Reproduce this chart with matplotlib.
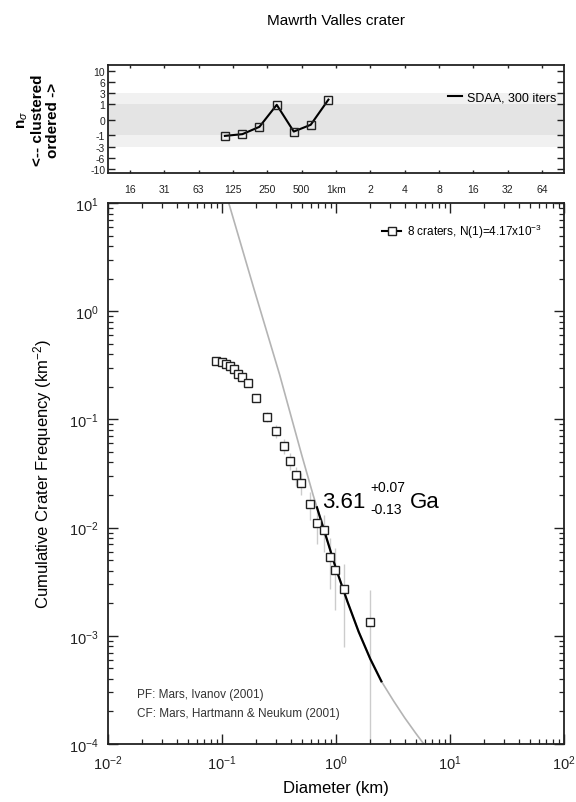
import numpy as np
import matplotlib
matplotlib.use("Agg")
import matplotlib.pyplot as plt
from matplotlib.lines import Line2D
from matplotlib.ticker import LogLocator, NullLocator, NullFormatter

plt.rcParams["font.family"] = ["Liberation Sans", "DejaVu Sans"]
plt.rcParams["mathtext.fontset"] = "custom"
plt.rcParams["mathtext.rm"] = "Liberation Sans"
plt.rcParams["mathtext.it"] = "Liberation Sans:italic"
plt.rcParams["mathtext.bf"] = "Liberation Sans:bold"

# cumulative crater counts (diameter km, frequency km^-2) + error bars
diam = [0.0886, 0.0994, 0.108, 0.1175, 0.1274, 0.139, 0.149, 0.168, 0.199, 0.247, 0.296,
        0.348, 0.395, 0.446, 0.493, 0.591, 0.686, 0.789, 0.891, 0.98, 1.18, 1.98]
cum_freq = [0.345, 0.338, 0.327, 0.311, 0.290, 0.264, 0.246, 0.215, 0.159, 0.106, 0.078,
            0.0567, 0.0412, 0.0304, 0.026, 0.0164, 0.011, 0.0095, 0.0054, 0.0041, 0.0027, 0.00134]
err_lo = [0.3235, 0.3167, 0.3061, 0.2906, 0.2703, 0.2452, 0.2279, 0.198, 0.1444, 0.0941, 0.0678,
          0.0480, 0.0338, 0.0241, 0.0200, 0.01167, 0.00711, 0.00591, 0.0027, 0.00173, 0.00079, 1e-6]
err_hi = [0.3665, 0.3593, 0.3479, 0.3314, 0.3097, 0.2828, 0.2641, 0.232, 0.1736, 0.1179, 0.0882,
          0.0654, 0.0486, 0.0367, 0.0320, 0.02113, 0.01489, 0.01309, 0.0081, 0.00647, 0.00461, 0.00268]

# isochron (gray, whole range) and fitted part (black)
iso_d = [0.100, 0.114, 0.19, 0.32, 0.50, 0.63, 0.79, 1.0, 1.26, 1.58, 2.0, 2.5, 3.2, 4.0, 5.0, 6.5]
iso_n = [15.5, 10.2, 1.63, 0.26, 0.047, 0.020, 0.0093, 0.00417, 0.00207, 0.00109, 0.00061,
         0.00038, 0.00025, 0.000175, 0.000126, 0.000087]
fit_d = [0.68, 0.79, 1.0, 1.26, 1.58, 2.0, 2.5]
fit_n = [0.0154, 0.0093, 0.00417, 0.00207, 0.00109, 0.00061, 0.00038]

# randomness analysis (top panel)
sdaa_d = [0.106, 0.151, 0.213, 0.302, 0.426, 0.60, 0.858]
sdaa_n = [-1.07, -0.85, -0.20, 0.95, -0.57, -0.10, 1.72]
n_ticks = [-10, -6, -3, -1, 0, 1, 3, 6, 10]
bin_ticks = [0.015625, 0.03125, 0.0625, 0.125, 0.25, 0.5, 1, 2, 4, 8, 16, 32, 64]
bin_labels = ["16", "31", "63", "125", "250", "500", "1km", "2", "4", "8", "16", "32", "64"]

fig = plt.figure(figsize=(5.76, 8.03), dpi=100)
ax = fig.add_axes([0.1875, 0.0722, 0.7917, 0.6737])
axr = fig.add_axes([0.1875, 0.7833, 0.7917, 0.1345])

fig.text(336 / 576, 1 - 21 / 803, "Mawrth Valles crater", ha="center", va="center", fontsize=11)

# --- top panel
def sq(v):
    return np.sign(v) * np.sqrt(np.abs(v))


def unsq(v):
    return np.sign(v) * v ** 2


axr.set_xscale("log")
axr.set_yscale("function", functions=(sq, unsq))
axr.set_xlim(1e-2, 1e2)
axr.set_ylim(-11.8, 12.6)
axr.axhspan(-3, 3, color="#f1f1f1", lw=0, zorder=0)
axr.axhspan(-1, 1, color="#e4e4e4", lw=0, zorder=0)
axr.plot(sdaa_d, sdaa_n, "-s", color="black", lw=1.5, ms=6, mfc="none", mec="#222", mew=1)
axr.set_yticks(n_ticks)
axr.set_yticklabels([str(t) for t in n_ticks])
axr.set_xticks(bin_ticks)
axr.set_xticklabels(bin_labels)
axr.xaxis.set_minor_locator(NullLocator())
axr.yaxis.set_minor_locator(NullLocator())
axr.tick_params(direction="in", top=True, right=True, labelsize=7.5, colors="#222")
axr.tick_params(axis="y", length=5, width=1, pad=2)
axr.tick_params(axis="x", length=2.5, width=1, pad=8)
for s in axr.spines.values():
    s.set_linewidth(1.3)
    s.set_color("#222")
hr = Line2D([], [], color="black", lw=1.5)
axr.legend([hr], ["SDAA, 300 iters"], loc="center right", bbox_to_anchor=(1.0, 0.70),
           frameon=False, fontsize=9, handlelength=1.1, handletextpad=0.4, borderaxespad=0.2)
fig.text(0.066, 1 - 120 / 803, "n$_\\sigma$\n<-- clustered\nordered ->", rotation=90,
         ha="center", va="center", fontsize=11, fontweight="bold", multialignment="center",
         linespacing=1.1)

# --- main panel
ax.set_xscale("log")
ax.set_yscale("log")
ax.set_xlim(1e-2, 1e2)
ax.set_ylim(1e-4, 1e1)
ax.plot(iso_d, iso_n, color="#b4b4b4", lw=1.2, zorder=2)
ax.plot(fit_d, fit_n, color="black", lw=1.6, zorder=3)
ax.vlines(diam, err_lo, err_hi, color="#cccccc", lw=1, zorder=1)
ax.plot(diam, cum_freq, ls="none", marker="s", ms=6, mfc="white", mec="#222", mew=1, zorder=4)

h = Line2D([], [], color="black", lw=1.5, marker="s", ms=6, mfc="white", mec="#222", mew=1)
ax.legend([h], ["8 craters, N(1)=4.17x10$^{-3}$"], loc="center right",
          bbox_to_anchor=(0.975, 0.948), frameon=False, fontsize=8.5, handlelength=1.6,
          handletextpad=0.5)

ax.text(0.469, 0.438, "3.61", transform=ax.transAxes, fontsize=16, va="baseline")
ax.text(0.576, 0.475, "+0.07", transform=ax.transAxes, fontsize=10, va="center")
ax.text(0.576, 0.434, "-0.13", transform=ax.transAxes, fontsize=10, va="center")
ax.text(0.662, 0.438, "Ga", transform=ax.transAxes, fontsize=16, va="baseline")

ax.text(0.063, 0.092, "PF: Mars, Ivanov (2001)", transform=ax.transAxes, fontsize=8.5,
        color="#333", va="center")
ax.text(0.063, 0.057, "CF: Mars, Hartmann & Neukum (2001)", transform=ax.transAxes,
        fontsize=8.5, color="#333", va="center")

ax.set_xlabel("Diameter (km)", fontsize=12)
ax.set_ylabel("Cumulative Crater Frequency (km$^{-2}$)", fontsize=12)
ax.xaxis.set_label_coords(0.5, -0.066)
ax.yaxis.set_label_coords(-0.118, 0.5)

for a in (ax.xaxis, ax.yaxis):
    a.set_major_locator(LogLocator(base=10, numticks=20))
    a.set_minor_locator(LogLocator(base=10, subs=np.arange(2, 10), numticks=20))
    a.set_minor_formatter(NullFormatter())
ax.tick_params(which="both", direction="in", top=True, right=True, colors="#222")
ax.tick_params(which="major", length=7, width=1, labelsize=10.5, pad=7)
ax.tick_params(which="minor", length=3.5, width=0.9)
for s in ax.spines.values():
    s.set_linewidth(1.3)
    s.set_color("#222")

plt.savefig("out.png", dpi=100)
